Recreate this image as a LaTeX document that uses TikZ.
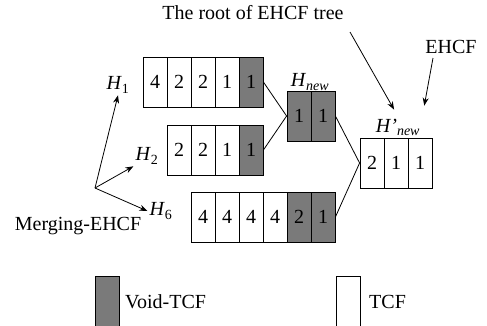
\documentclass[tikz,border=0pt]{standalone}
\usepackage{fontspec}
\setmainfont{Liberation Serif}
\usepackage{tikz}
\usetikzlibrary{arrows.meta}

\definecolor{voidgray}{RGB}{122,122,122}
\tikzset{
	tcf/.style={draw, line width=0.8pt, minimum width=24pt, minimum height=50pt, inner sep=0pt, font=\fontsize{20}{22}\selectfont},
	voidtcf/.style={tcf, fill=voidgray},
	lab/.style={inner sep=2pt, font=\fontsize{20}{24}\selectfont},
	arr/.style={-{Stealth[length=8pt,width=6pt]}, line width=0.8pt},
}

\begin{document}
\begin{tikzpicture}[x=1pt,y=-1pt]
		\useasboundingbox (0,0) rectangle (487,325);
		\clip (0,0) rectangle (487,325);

		\node[tcf] (h1a) at (155,82) {4};
		\node[tcf] (h1b) at (179,82) {2};
		\node[tcf] (h1c) at (203,82) {2};
		\node[tcf] (h1d) at (227,82) {1};
		\node[voidtcf] (h1e) at (251,82) {1};
		\node[tcf] (h2a) at (179,150) {2};
		\node[tcf] (h2b) at (203,150) {2};
		\node[tcf] (h2c) at (227,150) {1};
		\node[voidtcf] (h2d) at (251,150) {1};
		\node[tcf] (h6a) at (203,217) {4};
		\node[tcf] (h6b) at (227,217) {4};
		\node[tcf] (h6c) at (251,217) {4};
		\node[tcf] (h6d) at (275,217) {4};
		\node[voidtcf] (h6e) at (299,217) {2};
		\node[voidtcf] (h6f) at (323,217) {1};
		\node[voidtcf] (hna) at (299,116) {1};
		\node[voidtcf] (hnb) at (323,116) {1};
		\node[tcf] (hpa) at (372,163) {2};
		\node[tcf] (hpb) at (396,163) {1};
		\node[tcf] (hpc) at (420,163) {1};

		\node[lab] (H1) at (118,85) {\textit{H}\textsubscript{1}};
		\node[lab] (H2) at (147,156) {\textit{H}\textsubscript{2}};
		\node[lab] (H6) at (161,211) {\textit{H}\textsubscript{6}};
		\node[lab] (Hnew) at (310,82) {\textit{H}\textsubscript{\textit{new}}};
		\node[lab] (Hnewp) at (398,127) {\textit{H'}\textsubscript{\textit{new}}};
		\node[lab] (merge) at (78,226) {Merging-EHCF};
		\node[lab] (root) at (253,13) {The root of EHCF tree};
		\node[lab] (ehcf) at (451,47) {EHCF};

		\coordinate (mo) at (95,188);
		\coordinate (rootfoot) at (350,32);
		\coordinate (ehcffoot) at (433,58);

		\path [-, line width=0.8pt] (h1e.east) edge (hna.west);
		\path [-, line width=0.8pt] (h2d.east) edge (hna.west);
		\path [-, line width=0.8pt] (hnb.east) edge (hpa.west);
		\path [-, line width=0.8pt] (h6f.east) edge (hpa.west);

		\draw[arr] (mo) -- (H1.south);
		\draw[arr] (mo) -- (H2.south west);
		\draw[arr] (mo) -- (H6.west);
		\draw[arr, shorten >=8pt] (rootfoot) -- (Hnewp.north);
		\draw[arr, shorten >=11pt] (ehcffoot) -- (Hnewp.north east);

		% legend
		\node[voidtcf, minimum height=52pt] (legvoid) at (107,302) {};
		\node[lab, anchor=west] (legvoidtxt) at (123,302) {Void-TCF};
		\node[tcf, minimum height=52pt] (legtcf) at (348,302) {};
		\node[lab, anchor=west] (legtcftxt) at (367,302) {TCF};
	\end{tikzpicture}
\end{document}
